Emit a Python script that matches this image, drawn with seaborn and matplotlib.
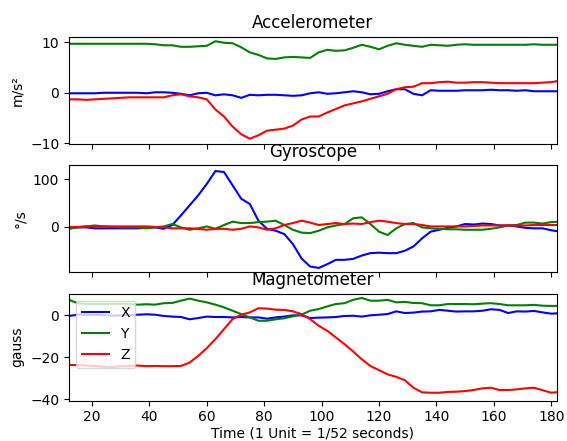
import matplotlib
matplotlib.use("Agg")
import matplotlib.pyplot as plt
import seaborn as sns
import numpy as np

time = list(range(12, 184, 3))

acc_x = [-0.1, -0.1, -0.1, -0.1, 0, 0, 0, 0, 0, -0.1, 0.1, 0.1, 0, -0.2, -0.5, -0.1, 0, -0.5, -0.3, -0.5,
         -1.0, -0.4, -0.5, -0.4, -0.4, -0.5, -0.6, -0.5, -0.1, 0.1, -0.2, -0.1, 0.1, 0.3, 0.1, -0.3, -0.2, 0.3,
         0.7, 0.7, -0.2, -0.5, 0.5, 0.4, 0.4, 0.4, 0.5, 0.5, 0.5, 0.6, 0.5, 0.5, 0.4, 0.5, 0.3, 0.3, 0.3, 0.3]
acc_y = [9.7, 9.7, 9.7, 9.7, 9.7, 9.7, 9.7, 9.7, 9.7, 9.7, 9.6, 9.4, 9.4, 9.1, 9.1, 9.2, 9.3, 10.2, 9.9, 9.8,
         9.0, 8.0, 7.5, 6.8, 6.7, 7.0, 7.1, 7.0, 6.9, 8.0, 8.5, 8.3, 8.4, 8.9, 9.5, 9.1, 8.6, 9.3,
         9.8, 9.5, 9.3, 9.1, 9.5, 9.4, 9.3, 9.5, 9.6, 9.5, 9.5, 9.5, 9.5, 9.5, 9.5, 9.5, 9.6, 9.5, 9.5, 9.5]
acc_z = [-1.3, -1.3, -1.4, -1.3, -1.2, -1.1, -1.0, -0.9, -0.9, -0.9, -0.9, -0.9, -0.5, -0.3, -0.7, -0.9, -1.3,
         -3.3, -4.7, -6.7, -8.2, -9.1, -8.4, -7.5, -7.3, -7.1, -6.5, -5.3, -4.7, -4.7, -3.9, -3.2, -2.5, -2.1,
         -1.7, -1.2, -0.7, -0.2, 0.7, 1.1, 1.2, 1.9, 1.9, 2.1, 2.2, 2.0, 2.0, 2.1, 2.1, 2.0, 1.9, 1.9, 1.9,
         1.9, 1.9, 2.0, 2.1, 2.4]

gyr_x = [-3, -1, -1, -3, -3, -3, -3, -3, -3, -2, -1, -4, 4, 24, 45, 66, 90, 117, 115, 87, 59, 48, 13, -4,
         -8, -15, -36, -66, -83, -86, -78, -69, -69, -67, -60, -55, -54, -55, -55, -50, -41, -24, -10, -6,
         -2, 1, 6, 5, 7, 6, 3, 3, 1, -2, -3, -3, -7, -10]
gyr_y = [-4, -1, 1, 3, 1, 0, -1, -1, -1, -3, -1, 1, 6, -1, -6, -3, 1, -4, 4, 11, 8, 8, 10, 11, 13, 4, -6,
         -12, -13, -8, -1, 3, 6, 18, 20, 6, -10, -17, -3, 6, 8, -1, -3, -4, -5, -5, -6, -6, -6, -4, -1, 3,
         4, 9, 9, 7, 10, 11]
gyr_z = [0, 0, 1, 1, 1, 1, 1, 1, 1, 1, 0, -1, -3, -3, -3, -4, -6, -4, -4, -6, -4, 1, -1, -6, -3, 4, 8,
         13, 9, 4, 6, 8, 6, 7, 6, 10, 13, 11, 8, 6, 6, 4, 1, 1, 1, 1, 1, 2, 3, 3, 3, 3, 3, 3, 4, 4, 4, 4]

mag_x = [-0.3, 0.3, 0.3, 0.2, 0, -0.2, 0, 0.2, 0.3, 0.5, 0.3, -0.3, -0.6, -0.8, -1.9, -1.3, -0.6, -0.8,
         -0.8, -1.0, -0.8, -1.0, -1.0, -1.6, -1.0, -0.6, 0, 0, -1.3, -1.1, -1.0, -0.8, -0.3, -0.2, -0.6, 0,
         0.3, 0.6, 1.9, 1.1, 1.3, 1.8, 1.9, 2.6, 2.2, 1.8, 1.9, 1.9, 2.2, 2.9, 2.6, 1.1, 1.9, 1.8, 2.1, 1.4,
         0.8, 1.0]
mag_y = [7.4, 5.8, 5.4, 5.4, 5.4, 5.4, 5.4, 5.4, 5.1, 5.3, 5.1, 5.8, 5.9, 7.0, 8.0, 7.0, 6.2, 5.1, 3.8,
         2.2, 0.6, -1.0, -2.6, -2.6, -1.9, -1.4, -0.5, 0.3, 2.2, 3.0, 4.3, 5.4, 5.8, 7.4, 8.3, 7.0, 7.0,
         7.4, 6.2, 6.4, 5.9, 5.8, 4.8, 4.8, 5.4, 5.4, 5.4, 5.3, 5.6, 5.8, 5.4, 4.8, 4.8, 4.8, 5.0, 4.6,
         4.5, 4.5]
mag_z = [-23.7, -23.8, -24.0, -24.2, -24.5, -24.8, -24.3, -24.2, -24.0, -24.3, -24.2, -24.3, -24.3, -24.2,
         -22.6, -19.4, -15.7, -11.4, -6.6, -1.8, 0.3, 1.4, 3.4, 3.2, 2.7, 2.6, 1.9, 0.6, -1.8, -5.0, -7.4,
         -10.6, -13.8, -17.3, -21.0, -24.2, -26.2, -28.2, -29.4, -31.0, -34.6, -36.8, -37.0, -37.0, -36.6,
         -36.5, -36.2, -35.7, -34.9, -34.6, -35.7, -35.7, -35.4, -34.9, -34.6, -35.8, -37.0, -36.6]

axis_names = ["X", "Y", "Z"]
colors = ["blue", "green", "red"]

panels = [
    ("Accelerometer", "m/s²", [acc_x, acc_y, acc_z], (-10.1, 11.1), [-10, 0, 10]),
    ("Gyroscope", "°/s", [gyr_x, gyr_y, gyr_z], (-95, 129.4), [0, 100]),
    ("Magnetometer", "gauss", [mag_x, mag_y, mag_z], (-40.8, 10.4), [-40, -20, 0]),
]

fig, axes = plt.subplots(3, 1, figsize=(5.67, 4.41), dpi=100, sharex=True)
fig.subplots_adjust(left=0.1217, right=0.9818, top=0.9168, bottom=0.0914, hspace=0.199)

for i, (ax, (title, unit, series, ylim, yt)) in enumerate(zip(axes, panels)):
    for name, col, vals in zip(axis_names, colors, series):
        sns.lineplot(x=time, y=vals, color=col, linewidth=1.5, ax=ax,
                     label=name if i == 2 else None, legend=False)
    ax.set_title(title, fontsize=12)
    ax.set_ylabel(unit)
    ax.set_ylim(*ylim)
    ax.set_yticks(yt)
    ax.set_xlim(12, 181.9)

axes[2].set_xticks([20, 40, 60, 80, 100, 120, 140, 160, 180])
axes[2].set_xlabel("Time (1 Unit = 1/52 seconds)", labelpad=1.5)
axes[2].legend(loc="upper left")

fig.savefig("out.png", dpi=100)
